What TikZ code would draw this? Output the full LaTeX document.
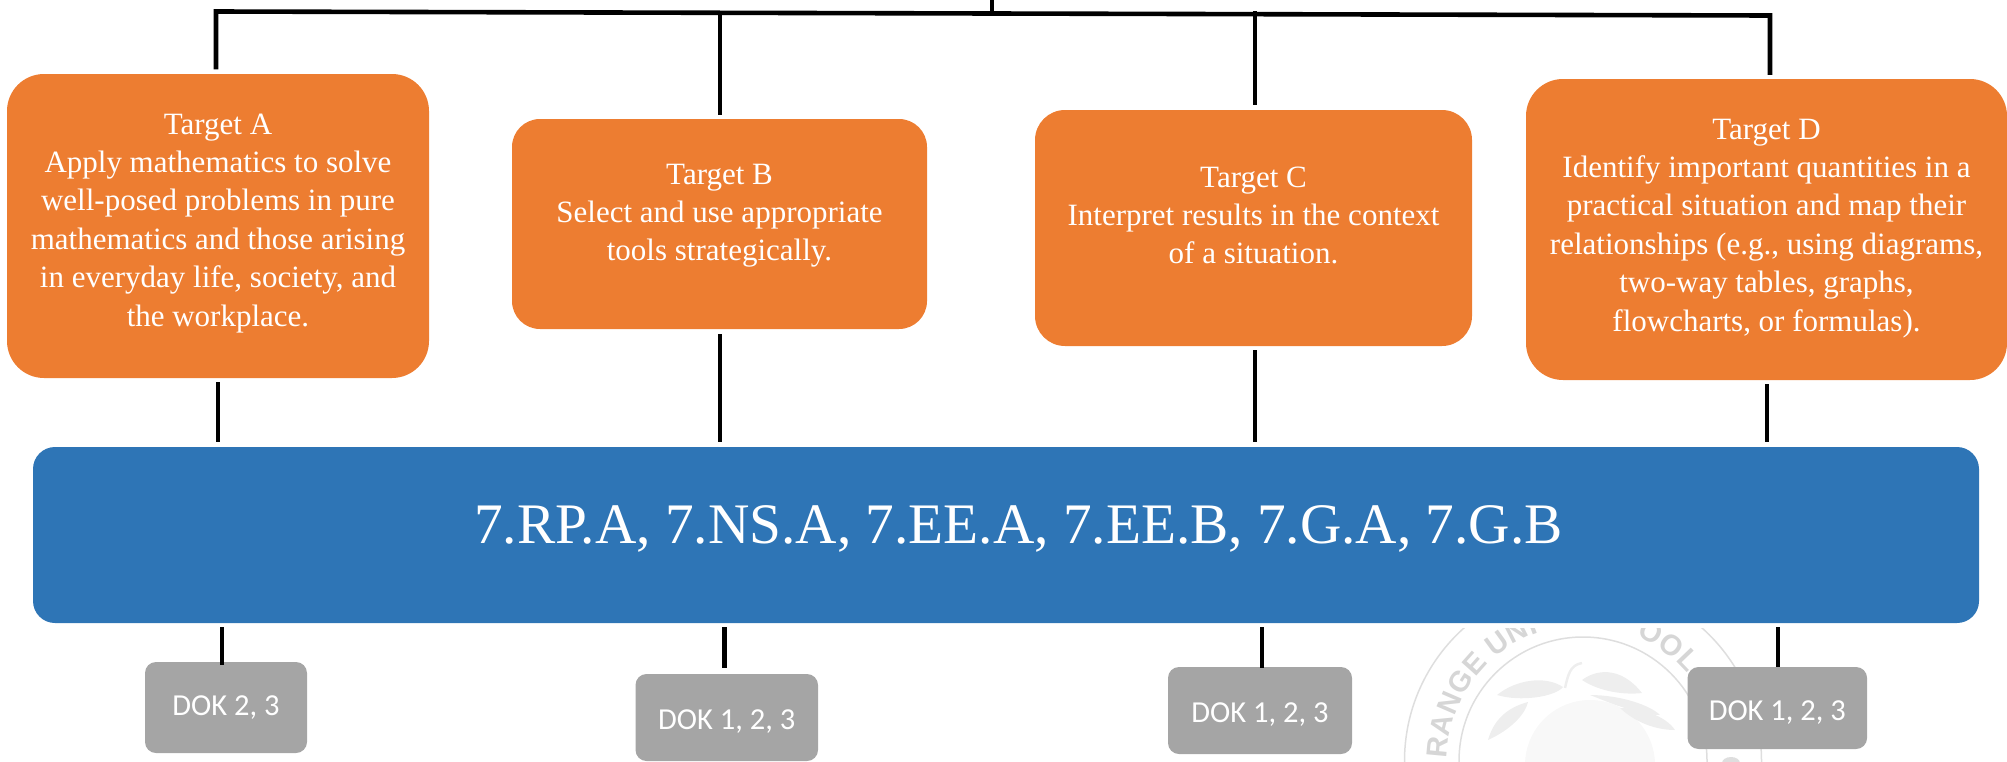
\documentclass[tikz,border=0pt]{standalone}
\usepackage{fontspec}
\setmainfont{Liberation Serif}
\newfontfamily\dokfont{Carlito}
\newfontfamily\sealfont{Liberation Sans}
\usetikzlibrary{calc,decorations.text}
\definecolor{tgtorange}{HTML}{ED7D31}
\definecolor{stdblue}{HTML}{2E75B6}
\definecolor{dokgray}{HTML}{A5A5A5}
\definecolor{sealline}{HTML}{DEDEDE}
\definecolor{sealgray}{HTML}{D6D6D6}
\definecolor{sealleaf}{HTML}{EEEEEE}
\definecolor{sealfruit}{HTML}{F8F8F8}
\newcommand{\rowsat}[2]{\raisebox{#1pt}[0pt][0pt]{\begin{tabular}[t]{@{}c@{}}#2\end{tabular}}}
\tikzset{
  target/.style={fill=tgtorange,text=white,inner sep=0pt,
    font=\fontsize{31}{38.4}\selectfont},
  stdbar/.style={fill=stdblue,text=white,inner sep=0pt,rounded corners=22pt,
    font=\fontsize{57.3}{64}\selectfont},
  dokbox/.style={fill=dokgray,text=white,inner sep=0pt,rounded corners=11pt,
    font=\dokfont\fontsize{30.5}{36}\selectfont},
  conn/.style={draw=black,line width=4.6pt}
}
\begin{document}
\begin{tikzpicture}[x=1pt,y=-1pt]
\useasboundingbox (0,0) rectangle (2007,761);
% faded seal
\begin{scope}
  \clip (1390,628) rectangle (1800,761);
  \fill[sealfruit] (1590,765) circle[radius=65pt];
  \fill[sealleaf] (1497,695) .. controls (1515,680) and (1545,675) .. (1563,687) .. controls (1555,697) and (1520,702) .. (1497,695) -- cycle;
  \fill[sealleaf] (1488,740) .. controls (1493,722) and (1505,708) .. (1528,702) .. controls (1525,715) and (1510,730) .. (1488,740) -- cycle;
  \fill[sealleaf] (1582,680) .. controls (1595,670) and (1620,665) .. (1642,693) .. controls (1625,695) and (1600,692) .. (1582,680) -- cycle;
  \fill[sealleaf] (1590,695) .. controls (1620,695) and (1650,705) .. (1660,715) .. controls (1640,715) and (1615,705) .. (1590,695) -- cycle;
  \fill[sealleaf] (1620,708) .. controls (1640,708) and (1665,715) .. (1675,730) .. controls (1655,730) and (1635,722) .. (1620,708) -- cycle;
  \draw[sealleaf,line width=2.5pt] (1565,688) .. controls (1568,675) and (1570,665) .. (1582,663);
  \draw[sealline,line width=1.5pt] (1583,761) circle[radius=124pt];
  \draw[sealline,line width=1.5pt] (1583,761) circle[radius=178.5pt];
  \fill[sealgray!80] (1731,763) ellipse[x radius=9pt,y radius=6pt];
  \begin{scope}[y=1pt]
    \path[decorate,decoration={text along path,text align={fit to path},
      text={|\sealfont\bfseries\fontsize{29}{29}\selectfont\color{sealgray}|RANGE UNI}}]
      (1583,-761) ++(179:136) arc[start angle=179,end angle=109,radius=136];
    \path[decorate,decoration={text along path,text align={fit to path},
      text={|\sealfont\bfseries\fontsize{29}{29}\selectfont\color{sealgray}|OOL}}]
      (1583,-761) ++(67:136) arc[start angle=67,end angle=40,radius=136];
  \end{scope}
\end{scope}
% targets
\node[target,rounded corners=37pt,minimum width=422pt,minimum height=304pt] (tA) at (218,226)
  {\rowsat{92}{Target A\\Apply mathematics to solve\\well-posed problems in pure\\mathematics and those arising\\in everyday life, society, and\\the workplace.}};
\node[target,rounded corners=28pt,minimum width=415pt,minimum height=210pt] (tB) at (719.5,224)
  {\rowsat{40}{Target B\\Select and use appropriate\\tools strategically.}};
\node[target,rounded corners=30pt,minimum width=437pt,minimum height=236pt] (tC) at (1253.5,228)
  {\rowsat{41}{Target C\\Interpret results in the context\\of a situation.}};
\node[target,rounded corners=37pt,minimum width=481pt,minimum height=301pt] (tD) at (1766.5,229.5)
  {\rowsat{90.5}{Target D\\Identify important quantities in a\\practical situation and map their\\relationships (e.g., using diagrams,\\two-way tables, graphs,\\flowcharts, or formulas).}};
% standards bar
\node[stdbar,minimum width=1946pt,minimum height=176pt] (bar) at (1006,535)
  {\hspace*{25pt}\rowsat{-8}{7.RP.A, 7.NS.A, 7.EE.A, 7.EE.B, 7.G.A, 7.G.B}};
% DOK boxes
\node[dokbox,minimum width=162pt,minimum height=91pt] (d1) at (226,707.5) {\rowsat{-7.5}{DOK 2, 3}};
\node[dokbox,minimum width=182.5pt,minimum height=87pt] (d2) at (726.75,717.5) {\rowsat{-11.5}{DOK 1, 2, 3}};
\node[dokbox,minimum width=184pt,minimum height=87pt] (d3) at (1260,710.5) {\rowsat{-11.5}{DOK 1, 2, 3}};
\node[dokbox,minimum width=179.5pt,minimum height=82pt] (d4) at (1777.3,708) {\rowsat{-12}{DOK 1, 2, 3}};
% top tree
\coordinate (root) at (992,0);
\coordinate (rootfoot) at (992,16);
\coordinate (railL) at (216,11.5);
\coordinate (railR) at (1770,15.5);
\coordinate (jB) at (720,13);
\coordinate (jC) at (1255,11);
\draw[conn] (root) -- (rootfoot);
\draw[conn] ([xshift=-2pt,yshift=4.5pt]tA.north) -- (railL) -- (railR) -- ([xshift=3.5pt,yshift=4pt]tD.north);
\draw[conn] (jB) -- ([xshift=0.5pt,yshift=4pt]tB.north);
\draw[conn] (jC) -- ([xshift=1.5pt,yshift=5pt]tC.north);
% targets to bar
\draw[conn] ([yshift=-4pt]tA.south) -- ([yshift=5pt]tA.south |- bar.north);
\draw[conn] ([xshift=0.5pt,yshift=-5pt]tB.south) -- ([xshift=0.5pt,yshift=5pt]tB.south |- bar.north);
\draw[conn] ([xshift=1.5pt,yshift=-4pt]tC.south) -- ([xshift=1.5pt,yshift=5pt]tC.south |- bar.north);
\draw[conn] ([xshift=0.5pt,yshift=-4pt]tD.south) -- ([xshift=0.5pt,yshift=5pt]tD.south |- bar.north);
% bar to DOK
\draw[conn] ([xshift=-4pt,yshift=-4pt]d1.north |- bar.south) -- ([xshift=-4pt,yshift=-3pt]d1.north);
\draw[conn] ([xshift=-2.2pt,yshift=-4pt]d2.north |- bar.south) -- ([xshift=-2.2pt,yshift=6pt]d2.north);
\draw[conn] ([xshift=2pt,yshift=-4pt]d3.north |- bar.south) -- ([xshift=2pt,yshift=-1pt]d3.north);
\draw[conn] ([xshift=0.7pt,yshift=-4pt]d4.north |- bar.south) -- ([xshift=0.7pt]d4.north);
\end{tikzpicture}
\end{document}
